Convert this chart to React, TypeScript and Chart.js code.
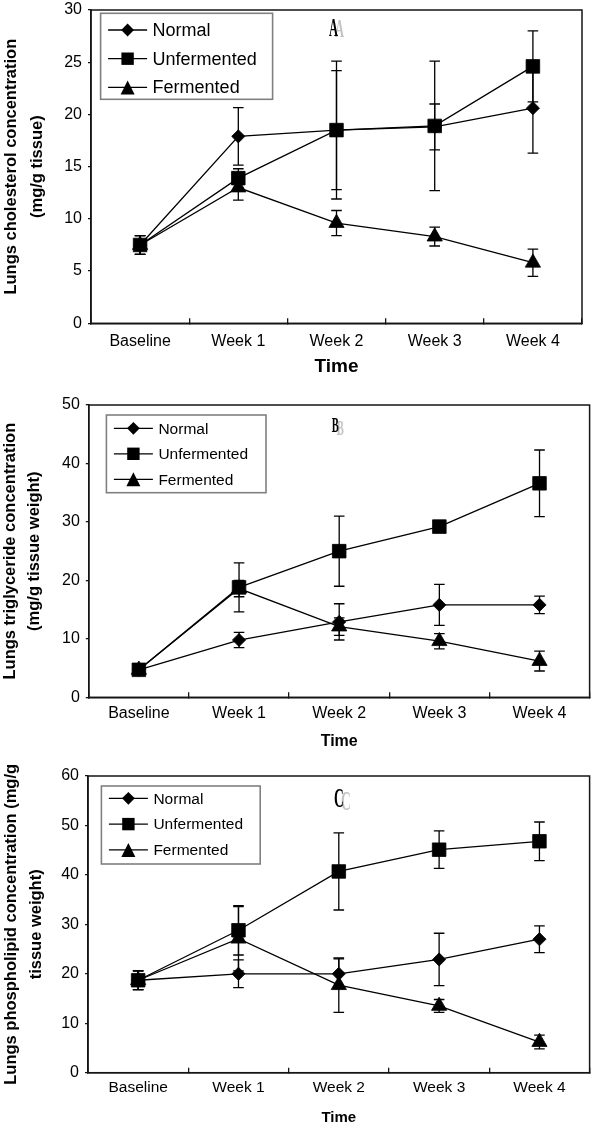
import React, { useEffect, useRef } from "react";
import { Chart, registerables } from "chart.js";

Chart.register(...registerables);

// ---------- data ----------
const categories = ["Baseline", "Week 1", "Week 2", "Week 3", "Week 4"];
const seriesNames = ["Normal", "Unfermented", "Fermented"];

// Panel A: cholesterol (mg/g tissue)
const cholNormal = [7.5, 17.9, 18.5, 18.8, 20.6];
const cholNormalErr = [0.9, 2.75, 5.7, 2.2, 4.3];
const cholUnfermented = [7.5, 13.9, 18.5, 18.9, 24.6];
const cholUnfermentedErr = [0.9, 0.9, 6.6, 6.2, 3.4];
const cholFermented = [7.5, 13.0, 9.6, 8.3, 5.8];
const cholFermentedErr = [0.9, 1.2, 1.2, 0.9, 1.3];
const cholYMax = 30;
const cholYStep = 5;

// Panel B: triglyceride (mg/g tissue weight)
const trigNormal = [4.7, 9.8, 12.9, 15.8, 15.8];
const trigNormalErr = [0.5, 1.3, 3.1, 3.5, 1.5];
const trigUnfermented = [4.7, 18.8, 25.0, 29.2, 36.6];
const trigUnfermentedErr = [0.5, 4.2, 6.0, 1.0, 5.7];
const trigFermented = [4.7, 18.6, 12.1, 9.6, 6.2];
const trigFermentedErr = [0.5, 1.4, 1.5, 1.3, 1.7];
const trigYMax = 50;
const trigYStep = 10;

// Panel C: phospholipid (mg/g tissue weight)
const phosNormal = [18.7, 20.0, 20.0, 22.9, 27.0];
const phosNormalErr = [1.9, 2.8, 3.0, 5.3, 2.7];
const phosUnfermented = [18.7, 28.8, 40.7, 45.1, 46.8];
const phosUnfermentedErr = [1.9, 5.0, 7.8, 3.8, 3.9];
const phosFermented = [18.7, 27.1, 17.7, 13.5, 6.2];
const phosFermentedErr = [1.9, 6.5, 5.5, 1.3, 1.4];
const phosYMax = 60;
const phosYStep = 10;

const xTitle = "Time";
const yTitleA = ["Lungs cholesterol concentration", "(mg/g tissue)"];
const yTitleB = ["Lungs triglyceride concentration", "(mg/g tissue weight)"];
const yTitleC = ["Lungs phospholipid concentration (mg/g", "tissue weight)"];
const letters = ["A", "B", "C"];

// ---------- styles ----------
const SANS = "'Liberation Sans', Arial, Helvetica, sans-serif";
const SERIF = "'Liberation Serif', 'Times New Roman', serif";
const INK = "#000000";
const FRAME = "#151515";
const pointStyles = ["rectRot", "rect", "triangle"];
const pointRadii = [6.6, 9.6, 8.8];

type LegendCfg = {
  dx: number; dy: number; w: number; h: number;
  row0: number; rowGap: number; font: number;
};
type LetterCfg = { dx: number; dy: number; size: number; sx: number; shX: number; shY: number };

type PanelCfg = {
  top: number; height: number;
  yMax: number; yStep: number;
  yWidth: number; padTop: number; padRight: number; xHeight: number;
  yTitle: string[]; yTitleLH: number; yTitlePad: number;
  xTitleSize: number; xTitlePad: number; xTickPad: number; tickSize: number;
  values: number[][]; errors: number[][];
  legend: LegendCfg; letter: string; letterCfg: LetterCfg;
};

const panels: PanelCfg[] = [
  {
    top: -6, height: 391, yMax: cholYMax, yStep: cholYStep,
    yWidth: 91, padTop: 16, padRight: 18, xHeight: 61.7,
    yTitle: yTitleA, yTitleLH: 26, yTitlePad: -1.5,
    xTitleSize: 19, xTitlePad: 6.6, xTickPad: 13.8, tickSize: 16,
    values: [cholNormal, cholUnfermented, cholFermented],
    errors: [cholNormalErr, cholUnfermentedErr, cholFermentedErr],
    legend: { dx: 9.6, dy: 3.3, w: 172, h: 86, row0: 16.7, rowGap: 28.7, font: 18 },
    letter: letters[0],
    letterCfg: { dx: -3, dy: 20, size: 25, sx: 0.5, shX: 6, shY: 1 },
  },
  {
    top: 375, height: 385, yMax: trigYMax, yStep: trigYStep,
    yWidth: 88.8, padTop: 30, padRight: 6.8, xHeight: 62.7,
    yTitle: yTitleB, yTitleLH: 24, yTitlePad: -1.3,
    xTitleSize: 16, xTitlePad: 8.7, xTickPad: 11.4, tickSize: 16,
    values: [trigNormal, trigUnfermented, trigFermented],
    errors: [trigNormalErr, trigUnfermentedErr, trigFermentedErr],
    legend: { dx: 17.6, dy: 10, w: 159.6, h: 77.7, row0: 13.3, rowGap: 25.5, font: 15.5 },
    letter: letters[1],
    letterCfg: { dx: -4, dy: 21.5, size: 21, sx: 0.5, shX: 5, shY: 3 },
  },
  {
    top: 750, height: 379, yMax: phosYMax, yStep: phosYStep,
    yWidth: 88, padTop: 26, padRight: 1.8, xHeight: 56.3,
    yTitle: yTitleC, yTitleLH: 25, yTitlePad: -1,
    xTitleSize: 15, xTitlePad: 2.3, xTickPad: 11, tickSize: 15.5,
    values: [phosNormal, phosUnfermented, phosFermented],
    errors: [phosNormalErr, phosUnfermentedErr, phosFermentedErr],
    legend: { dx: 13.4, dy: 10, w: 158.8, h: 78, row0: 12.3, rowGap: 25.8, font: 15.5 },
    letter: letters[2],
    letterCfg: { dx: 0, dy: 24, size: 27, sx: 0.5, shX: 7, shY: 3 },
  },
];

function drawMarker(ctx: CanvasRenderingContext2D, style: string, x: number, y: number) {
  ctx.beginPath();
  if (style === "rectRot") {
    const r = 6.4;
    ctx.moveTo(x, y - r); ctx.lineTo(x + r, y); ctx.lineTo(x, y + r); ctx.lineTo(x - r, y);
  } else if (style === "rect") {
    const h = 6.2;
    ctx.rect(x - h, y - h, 2 * h, 2 * h);
  } else {
    const h = 7;
    ctx.moveTo(x, y - h); ctx.lineTo(x + h, y + h); ctx.lineTo(x - h, y + h);
  }
  ctx.closePath();
  ctx.fill();
}

function makeDecor(cfg: PanelCfg) {
  return {
    id: "decor",
    beforeDatasetsDraw(chart: any) {
      const ctx: CanvasRenderingContext2D = chart.ctx;
      const ys = chart.scales.y;
      const cap = 5.3;
      ctx.save();
      ctx.strokeStyle = INK;
      ctx.lineWidth = 1.3;
      chart.data.datasets.forEach((ds: any, i: number) => {
        const meta = chart.getDatasetMeta(i);
        const errs: number[] = ds.errorBars || [];
        meta.data.forEach((pt: any, j: number) => {
          const v = ds.data[j];
          const e = errs[j] || 0;
          if (!e) return;
          const yHi = ys.getPixelForValue(v + e);
          const yLo = ys.getPixelForValue(v - e);
          ctx.beginPath();
          ctx.moveTo(pt.x, yHi); ctx.lineTo(pt.x, yLo);
          ctx.moveTo(pt.x - cap, yHi); ctx.lineTo(pt.x + cap, yHi);
          ctx.moveTo(pt.x - cap, yLo); ctx.lineTo(pt.x + cap, yLo);
          ctx.stroke();
        });
      });
      ctx.restore();
    },
    afterDraw(chart: any) {
      const ctx: CanvasRenderingContext2D = chart.ctx;
      const ca = chart.chartArea;
      // frame
      ctx.save();
      ctx.strokeStyle = FRAME;
      ctx.lineWidth = 1.5;
      ctx.strokeRect(ca.left, ca.top, ca.right - ca.left, ca.bottom - ca.top);
      ctx.restore();

      // legend
      const L = cfg.legend;
      const bx = ca.left + L.dx;
      const by = ca.top + L.dy;
      ctx.save();
      ctx.fillStyle = "#ffffff";
      ctx.fillRect(bx, by, L.w, L.h);
      ctx.strokeStyle = "#808080";
      ctx.lineWidth = 1.6;
      ctx.strokeRect(bx, by, L.w, L.h);
      chart.data.datasets.forEach((ds: any, i: number) => {
        const ry = by + L.row0 + i * L.rowGap;
        ctx.strokeStyle = INK;
        ctx.lineWidth = 1.3;
        ctx.beginPath();
        ctx.moveTo(bx + 7.5, ry);
        ctx.lineTo(bx + 46.5, ry);
        ctx.stroke();
        ctx.fillStyle = INK;
        drawMarker(ctx, ds.pointStyle, bx + 27, ry);
        ctx.font = `${L.font}px ${SANS}`;
        ctx.textAlign = "left";
        ctx.textBaseline = "middle";
        ctx.fillText(ds.label, bx + 52, ry + 1);
      });
      ctx.restore();

      // panel letter with grey shadow
      const C = cfg.letterCfg;
      const lx = chart.scales.x.getPixelForValue(2) + C.dx;
      const ly = ca.top + C.dy;
      ctx.save();
      ctx.font = `bold ${C.size}px ${SERIF}`;
      ctx.textAlign = "center";
      ctx.textBaseline = "middle";
      ctx.save();
      ctx.translate(lx + C.shX, ly + C.shY);
      ctx.scale(C.sx, 1);
      ctx.fillStyle = "#c4c4c4";
      ctx.fillText(cfg.letter, 0, 0);
      ctx.restore();
      ctx.save();
      ctx.translate(lx, ly);
      ctx.scale(C.sx, 1);
      ctx.fillStyle = INK;
      ctx.fillText(cfg.letter, 0, 0);
      ctx.restore();
      ctx.restore();
    },
  };
}

function Panel({ cfg }: { cfg: PanelCfg }) {
  const ref = useRef<HTMLCanvasElement | null>(null);
  useEffect(() => {
    if (!ref.current) return;
    const datasets = seriesNames.map((name, i) => ({
      label: name,
      data: cfg.values[i],
      errorBars: cfg.errors[i],
      borderColor: INK,
      backgroundColor: INK,
      borderWidth: 1.3,
      pointStyle: pointStyles[i],
      pointRadius: pointRadii[i],
      pointBackgroundColor: INK,
      pointBorderColor: INK,
      pointBorderWidth: 0.8,
      tension: 0,
      fill: false,
    }));
    const chart = new Chart(ref.current, {
      type: "line",
      data: { labels: categories, datasets: datasets as any },
      options: {
        responsive: false,
        animation: false,
        devicePixelRatio: 1,
        layout: { padding: { top: cfg.padTop, right: cfg.padRight, bottom: 0, left: 0 } },
        plugins: { legend: { display: false }, tooltip: { enabled: false } },
        scales: {
          x: {
            type: "category",
            offset: true,
            grid: {
              offset: true,
              drawOnChartArea: false,
              drawTicks: true,
              tickLength: -5,
              color: FRAME,
              lineWidth: 1.3,
            },
            border: { display: true, color: FRAME, width: 1.5 },
            ticks: {
              autoSkip: false,
              maxRotation: 0,
              minRotation: 0,
              padding: cfg.xTickPad,
              color: INK,
              font: { family: SANS, size: cfg.tickSize },
            },
            title: {
              display: true,
              text: xTitle,
              color: INK,
              font: { family: SANS, size: cfg.xTitleSize, weight: "bold" },
              padding: { top: 0, bottom: cfg.xTitlePad },
            },
            afterFit: (s: any) => { s.height = cfg.xHeight; },
          },
          y: {
            min: 0,
            max: cfg.yMax,
            grid: {
              drawOnChartArea: false,
              drawTicks: true,
              tickLength: 3,
              color: FRAME,
              lineWidth: 1.3,
            },
            border: { display: true, color: FRAME, width: 1.5 },
            ticks: {
              stepSize: cfg.yStep,
              padding: 6,
              color: INK,
              font: { family: SANS, size: 16 },
            },
            title: {
              display: true,
              text: cfg.yTitle,
              color: INK,
              font: { family: SANS, size: 16.5, weight: "bold", lineHeight: `${cfg.yTitleLH}px` },
              padding: { top: cfg.yTitlePad, bottom: 0 },
            },
            afterFit: (s: any) => { s.width = cfg.yWidth; },
          },
        },
      } as any,
      plugins: [makeDecor(cfg)],
    });
    return () => chart.destroy();
  }, [cfg]);
  return (
    <canvas
      ref={ref}
      width={600}
      height={cfg.height}
      style={{ position: "absolute", left: 0, top: cfg.top, width: 600, height: cfg.height }}
    />
  );
}

export default function App() {
  return (
    <div style={{ position: "absolute", left: 0, top: 0, width: 600, height: 1129, background: "#ffffff", overflow: "hidden" }}>
      {panels.map((p, i) => (
        <Panel key={i} cfg={p} />
      ))}
    </div>
  );
}
